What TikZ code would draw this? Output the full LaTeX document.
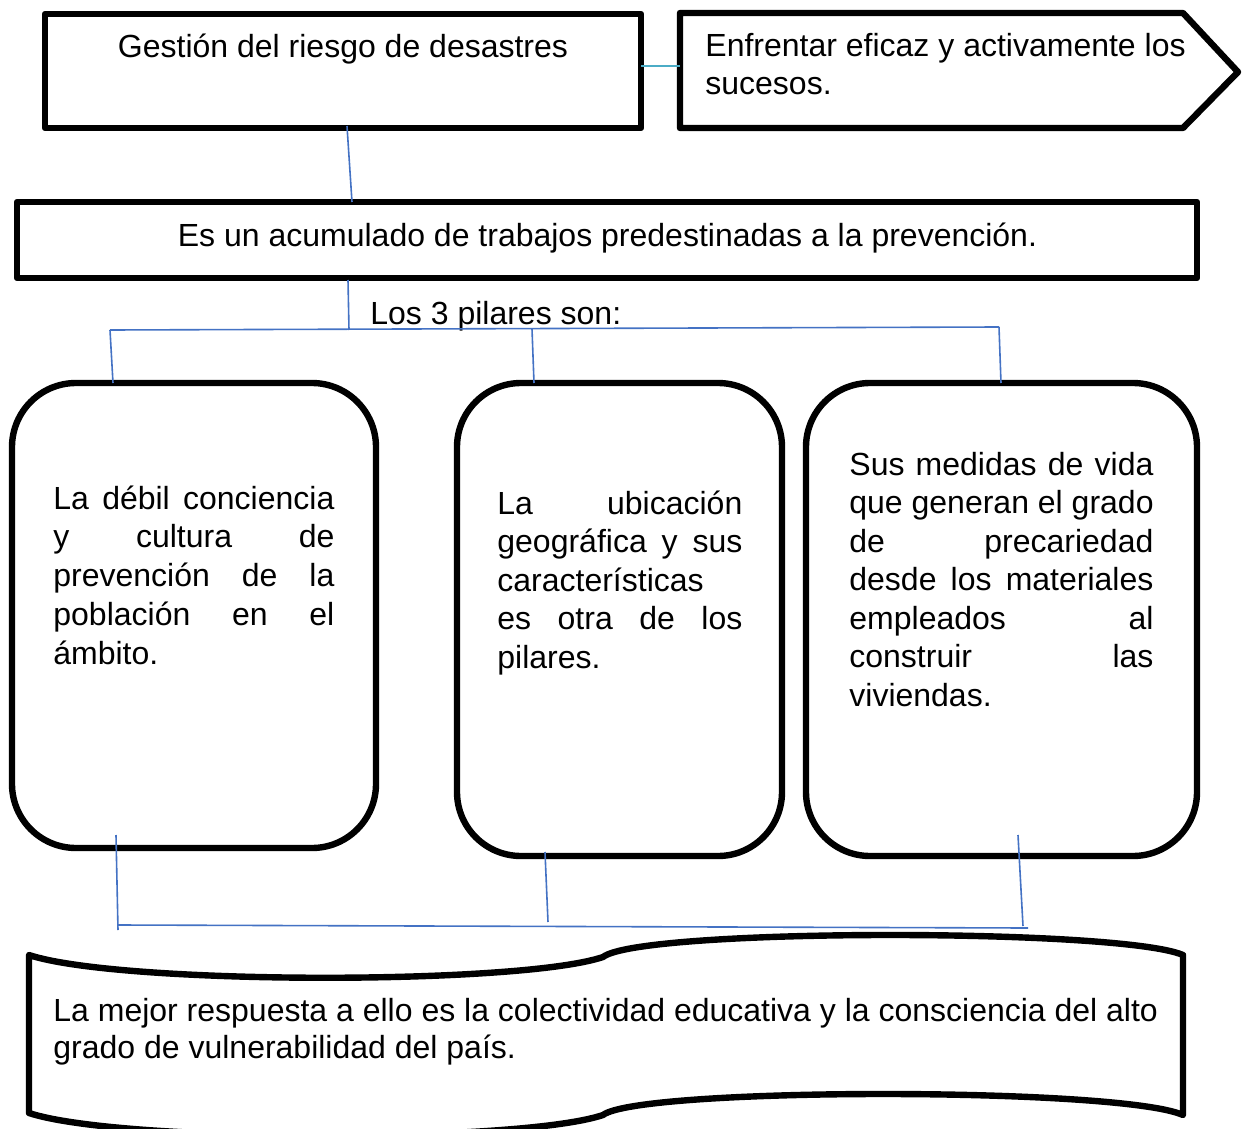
\documentclass[tikz,border=0pt]{standalone}
\usepackage{fontspec}
\setmainfont{Liberation Sans}
\newlength\pxu \setlength\pxu{0.5pt}
\newcommand\jl[2]{\hbox to #1\pxu{\spaceskip=\fontdimen2\font plus 1fil\relax #2}}
\newcommand\pl[1]{\hbox{#1}}
\definecolor{blueline}{RGB}{68,114,196}
\definecolor{tealline}{RGB}{75,172,198}
\tikzset{
 txt/.style={inner sep=0pt, font=\fontsize{16pt}{19.5pt}\selectfont},
 bk/.style={draw=black, line width=3.2pt, line join=round, inner sep=0pt},
 bl/.style={draw=blueline, line width=0.8pt},
 tl/.style={draw=tealline, line width=0.8pt},
}
\begin{document}
\begin{tikzpicture}[x=0.5pt,y=-0.5pt]
\useasboundingbox (0,0) rectangle (1243,1129);
\fill[white] (0,0) rectangle (1243,1129);

% top boxes
\node[bk, minimum width=596\pxu, minimum height=114\pxu] (gest) at (343,71) {};
\node[txt, anchor=base] (gestt) at (343,58) {Gestión del riesgo de desastres};
\draw[bk] (680,13) -- (1183,13) -- (1238,72) -- (1183,128) -- (680,128) -- cycle;
\coordinate (enf) at (680,66);
\node[txt, anchor=base west] (enft) at (705,57) {\vtop{\baselineskip=38\pxu
 \pl{Enfrentar eficaz y activamente los}\pl{sucesos.}}};
\coordinate (g1) at (641,66);
\draw[tl] (g1) -- (enf);

% second box
\node[bk, minimum width=1180\pxu, minimum height=76\pxu] (acum) at (607,240) {};
\node[txt, anchor=base] (acumt) at (607.5,246) {Es un acumulado de trabajos predestinadas a la prevención.};
\coordinate (g2) at (347,126);
\coordinate (a1) at (352,202);
\draw[bl] (g2) -- (a1);

\node[txt, anchor=base west] (los) at (370,324) {Los 3 pilares son:};

% pillar boxes
\node[bk, rounded corners=32pt, minimum width=364\pxu, minimum height=465\pxu] (pa) at (194,615.5) {};
\node[bk, rounded corners=32pt, minimum width=325\pxu, minimum height=473\pxu] (pb) at (619.5,619.5) {};
\node[bk, rounded corners=32pt, minimum width=391\pxu, minimum height=473\pxu] (pc) at (1001.5,619.5) {};

% top tree connectors
\coordinate (a2) at (348,280);
\coordinate (h0) at (349,330);
\coordinate (hl) at (110,330);
\coordinate (hm) at (532,329);
\coordinate (hr) at (999,327);
\coordinate (ta) at (113,383);
\coordinate (tb) at (534,383);
\coordinate (tc) at (1001,383);
\draw[bl] (a2) -- (h0);
\draw[bl] (hl) -- (hr);
\draw[bl] (hl) -- (ta);
\draw[bl] (hm) -- (tb);
\draw[bl] (hr) -- (tc);

% pillar texts
\node[txt, anchor=base west] (pat) at (53,509) {\vtop{\baselineskip=38.75\pxu
 \jl{281}{La débil conciencia}\jl{281}{y cultura de}\jl{281}{prevención de la}\jl{281}{población en el}\pl{ámbito.}}};
\node[txt, anchor=base west] (pbt) at (497,514) {\vtop{\baselineskip=38.5\pxu
 \jl{245}{La ubicación}\jl{245}{geográfica y sus}\pl{características}\jl{245}{es otra de los}\pl{pilares.}}};
\node[txt, anchor=base west] (pct) at (849,475) {\vtop{\baselineskip=38.5\pxu
 \jl{304}{Sus medidas de vida}\jl{304}{que generan el grado}\jl{304}{de precariedad}\jl{304}{desde los materiales}\jl{304}{empleados al}\jl{304}{construir las}\pl{viviendas.}}};

% bottom tree connectors
\coordinate (ba) at (116,835);
\coordinate (bb) at (545,852);
\coordinate (bc) at (1018,835);
\coordinate (ea) at (118,930);
\coordinate (eb) at (548,922);
\coordinate (ec) at (1023,926);
\coordinate (bl0) at (118,925);
\coordinate (br0) at (1028,928);
\draw[bl] (ba) -- (ea);
\draw[bl] (bb) -- (eb);
\draw[bl] (bc) -- (ec);
\draw[bl] (bl0) -- (br0);

% wave shape
\draw[bk] (29,955) .. controls (120,985) and (520,985) .. (603,957)
 .. controls (640,928) and (1120,928) .. (1183,955)
 -- (1183,1115)
 .. controls (1120,1087) and (640,1087) .. (603,1115)
 .. controls (520,1143) and (120,1143) .. (29,1113) -- cycle;
\node[txt, anchor=base west] (wt) at (53,1021) {\vtop{\baselineskip=37\pxu
 \pl{La mejor respuesta a ello es la colectividad educativa y la consciencia del alto}\pl{grado de vulnerabilidad del país.}}};
\end{tikzpicture}
\end{document}
